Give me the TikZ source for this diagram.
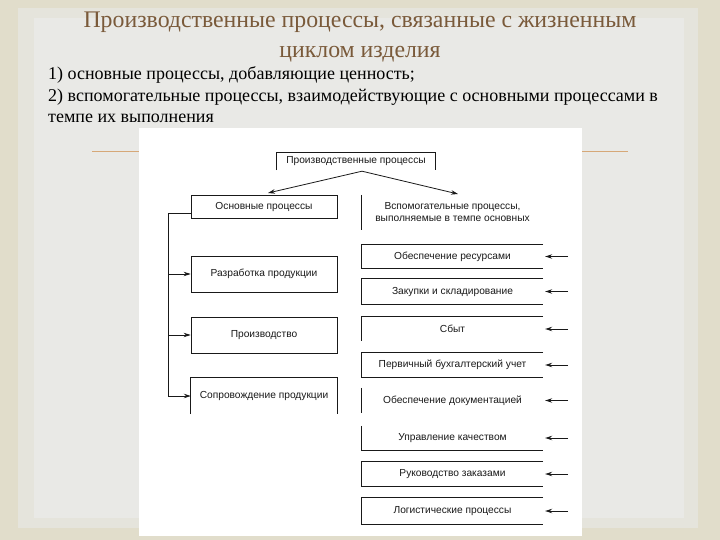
\documentclass[tikz,border=0pt]{standalone}
\usepackage{fontspec}
\setmainfont{Liberation Serif}
\newfontfamily\diagfont{Liberation Sans}
\usepackage{tikz}
\usetikzlibrary{arrows,arrows.meta,calc}
\definecolor{TitleBrown}{RGB}{122,90,58}
\definecolor{SlideBeige}{RGB}{225,221,203}
\definecolor{SlideMid}{RGB}{229,228,220}
\definecolor{SlideGray}{RGB}{233,233,230}
\definecolor{LineOrange}{RGB}{214,168,120}
\definecolor{DiagInk}{RGB}{25,25,25}

\begin{document}
\begin{tikzpicture}[x=1pt,y=-1pt,
    dfont/.style={font=\diagfont\fontsize{10.2}{12}\selectfont,text=DiagInk},
    lbox/.style={dfont,minimum width=146pt,minimum height=36pt,inner sep=0pt},
    rbox/.style={dfont,minimum width=181pt,inner sep=0pt},
    tip/.style={-{Stealth[length=7pt,width=4.5pt]},DiagInk,line width=0.8pt},
    edge/.style={DiagInk,line width=0.8pt}]
    \useasboundingbox (0,0) rectangle (720,540);
    %%Slide
    \fill[SlideBeige] (0,0) rectangle (720,540);
    \fill[SlideMid] (18,8) rectangle (698,528);
    \fill[SlideGray] (34,18) rectangle (684,518);
    \fill[white] (139,128) rectangle (582,536);
    \draw[LineOrange, line width=1pt] (92,152) to (139,152);
    \draw[LineOrange, line width=1pt] (582,152) to (628,152);
    %%Heading
    \node[align=center, text=TitleBrown, font=\fontsize{23.8}{30}\selectfont] (title) at (360,37)
        {Производственные процессы, связанные с жизненным\\циклом изделия};
    \node[anchor=base west, inner sep=0pt, font=\fontsize{18}{20}\selectfont] (item1) at (48,80)
        {1) основные процессы, добавляющие ценность;};
    \node[anchor=base west, inner sep=0pt, font=\fontsize{18}{20}\selectfont] (item2) at (48,102)
        {2) вспомогательные процессы, взаимодействующие с основными процессами в};
    \node[anchor=base west, inner sep=0pt, font=\fontsize{18}{20}\selectfont] (item3) at (48,123)
        {темпе их выполнения};
    %%Top of the scheme
    \node[dfont, minimum width=158pt, minimum height=17pt, inner sep=0pt] (top) at (356,161.5)
        {Производственные процессы};
    \draw[edge] (top.south west) to (top.north west) to (top.north east) to (top.south east);
    \coordinate (split) at ($(top.south)+(6,1)$);
    \coordinate (mainin) at (268,193);
    \coordinate (auxin) at (458,194);
    \draw[tip] (split) to (mainin);
    \draw[tip] (split) to (auxin);
    %%Main processes
    \node[lbox, draw=DiagInk, line width=0.8pt, minimum height=23pt] (l1) at (264,206.5) {Основные процессы};
    \node[lbox, draw=DiagInk, line width=0.8pt] (l2) at (264,274) {Разработка продукции};
    \node[lbox, draw=DiagInk, line width=0.8pt] (l3) at (264,335) {Производство};
    \node[lbox] (l4) at (264,396) {Сопровождение продукции};
    \draw[edge] (l4.south west) to (l4.north west) to (l4.north east) to (l4.south east);
    \coordinate (bus) at (168,213);
    \draw[edge] (l1.west |- bus) to (bus) to (bus |- l4.west);
    \foreach \n in {l2,l3,l4}
    {
    \draw[tip] (bus |- \n.west) to (\n.west);
    }
    %%Supporting processes
    \node[rbox, align=center, minimum height=35pt] (aux) at (452.5,212.5)
        {Вспомогательные процессы,\\выполняемые в темпе основных};
    \draw[edge] (aux.north west) to (aux.south west);
    \foreach \n/\y/\h/\t in {r1/256.5/23/{Обеспечение ресурсами},
        r2/291.5/25/{Закупки и складирование},
        r3/329/24/{Сбыт},
        r4/365/24/{Первичный бухгалтерский учет},
        r5/400.5/25/{Обеспечение документацией},
        r6/438/24/{Управление качеством},
        r7/474/24/{Руководство заказами},
        r8/511/26/{Логистические процессы}}
    {
    \node[rbox, minimum height=\h pt] (\n) at (452.5,\y) {\t};
    \coordinate (\n-src) at ($(\n.east)+(25,0)$);
    \draw[tip] (\n-src) to ($(\n.east)+(2,0)$);
    }
    \foreach \n in {r1,r2,r4,r7,r8}
    {
    \draw[edge] (\n.north east) to (\n.north west) to (\n.south west) to (\n.south east);
    }
    \draw[edge] (r3.north east) to (r3.north west) to (r3.south west);
    \draw[edge] (r5.north west) to (r5.south west);
    \draw[edge] (r6.north west) to (r6.south west) to (r6.south east);
\end{tikzpicture}
\end{document}
